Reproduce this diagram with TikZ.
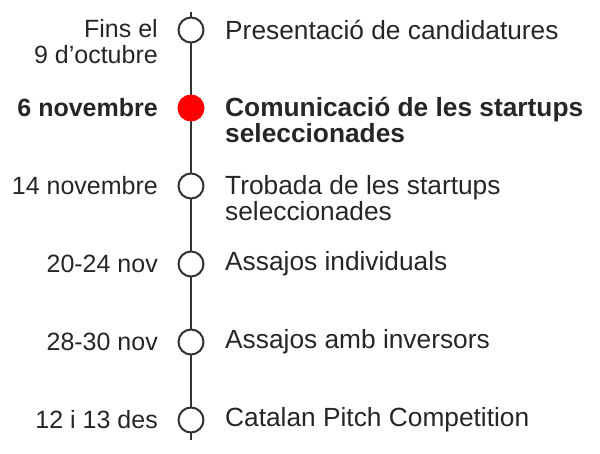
\documentclass[tikz,border=0pt]{standalone}
\usepackage{fontspec}
\setmainfont{Liberation Sans}
\begin{document}
\begin{tikzpicture}[x=1pt,y=-1pt,
  dot/.style={circle,draw=black!80,line width=2pt,fill=white,minimum size=25pt,inner sep=0pt},
  reddot/.style={dot,fill=red,draw=red},
  lbl/.style={anchor=east,align=right,font=\fontsize{25}{26}\selectfont,text=black!85,inner sep=0pt},
  txt/.style={anchor=west,align=left,font=\fontsize{26.3}{26}\selectfont,text=black!85,inner sep=0pt}]
\useasboundingbox (0,0) rectangle (600,453);
\coordinate (top) at (191,12);
\coordinate (bot) at (191,440);
\draw[line width=2pt,black!80] (top) -- (bot);
\node[dot] (c1) at (191,30) {};
\node[reddot] (c2) at (191,108) {};
\node[dot] (c3) at (191,186) {};
\node[dot] (c4) at (191,264) {};
\node[dot] (c5) at (191,342) {};
\node[dot] (c6) at (191,420) {};
\node[lbl] (l1) at (158,42) {Fins el\\9 d’octubre};
\node[lbl,font=\bfseries\fontsize{25}{26}\selectfont] (l2) at (158,108) {6 novembre};
\node[lbl] (l3) at (158,186) {14 novembre};
\node[lbl] (l4) at (158,264) {20-24 nov};
\node[lbl] (l5) at (158,342) {28-30 nov};
\node[lbl] (l6) at (158,420) {12 i 13 des};
\node[txt] (t1) at (225,30) {Presentació de candidatures};
\node[txt,font=\bfseries\fontsize{26.3}{26}\selectfont] (t2) at (225,120) {Comunicació de les startups\\seleccionades};
\node[txt] (t3) at (225,198) {Trobada de les startups\\seleccionades};
\node[txt] (t4) at (225,264) {Assajos individuals};
\node[txt] (t5) at (225,342) {Assajos amb inversors};
\node[txt] (t6) at (225,420) {Catalan Pitch Competition};
\end{tikzpicture}
\end{document}
